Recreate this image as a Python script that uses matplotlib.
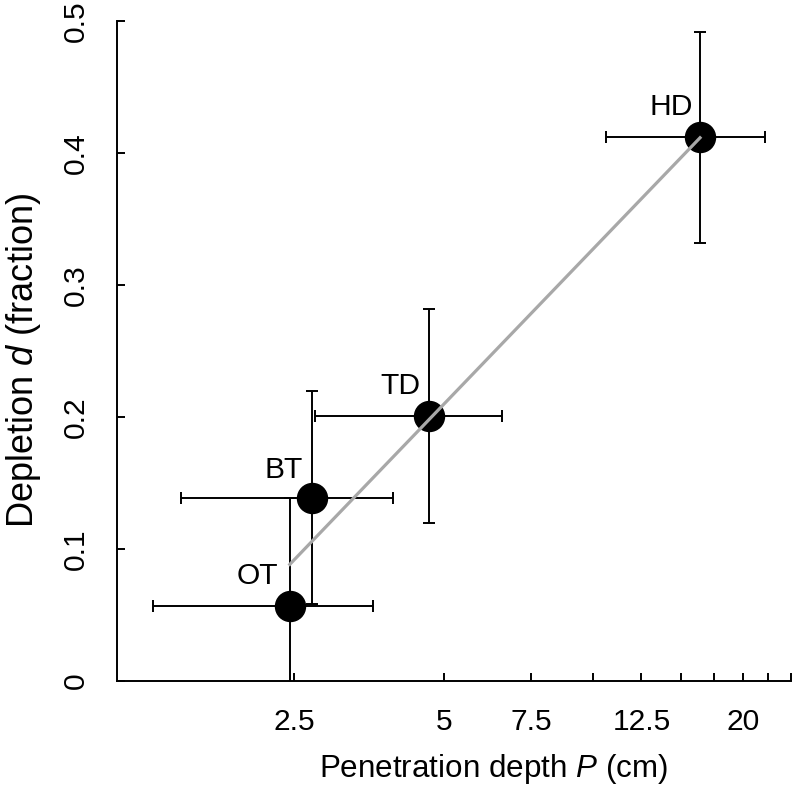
import numpy as np
import matplotlib
matplotlib.use("Agg")
import matplotlib.pyplot as plt
from matplotlib.ticker import FixedLocator, FixedFormatter, NullLocator

plt.rcParams['font.family'] = ['Liberation Sans', 'DejaVu Sans']
plt.rcParams['mathtext.fontset'] = 'custom'
plt.rcParams['mathtext.rm'] = 'Liberation Sans'
plt.rcParams['mathtext.it'] = 'Liberation Sans:italic'

# Data
sites = ["OT", "BT", "TD", "HD"]
depth_P = [2.45, 2.72, 4.66, 16.4]
depth_err = [1.15, 1.24, 1.90, 5.8]
depletion_d = [0.057, 0.139, 0.201, 0.412]
depletion_err = [0.082, 0.081, 0.081, 0.080]
fit_intercept = -0.064
fit_slope = 0.170

x_ticks = [2.5, 5, 7.5, 10, 12.5, 15, 17.5, 20, 22.5, 25]
x_ticklabels = ["2.5", "5", "7.5", "", "12.5", "", "", "20", "", ""]
y_ticks = [0, 0.1, 0.2, 0.3, 0.4, 0.5]
y_ticklabels = ["0", "0.1", "0.2", "0.3", "0.4", "0.5"]

fig = plt.figure(figsize=(7.96, 7.89), dpi=100)
ax = fig.add_axes([117/796, 1-681/789, (791-117)/796, (681-21)/789])

ax.errorbar(depth_P, depletion_d, xerr=depth_err, yerr=depletion_err,
            fmt='none', ecolor='black', elinewidth=1.4, capsize=4.5,
            capthick=1.4, zorder=2)
ax.plot(depth_P, depletion_d, 'o', color='black', markersize=21.6, zorder=3)

P = np.array(depth_P)
xs = np.linspace(P.min(), P.max(), 100)
ax.plot(xs, fit_intercept + fit_slope*np.log(xs), color='#a8a8a8', lw=2.3, zorder=4)

offsets = {"OT": (-12, 22), "BT": (-9, 20), "TD": (-8, 22), "HD": (-7, 22)}
for s, x, y in zip(sites, depth_P, depletion_d):
    ax.annotate(s, (x, y), xytext=offsets[s], textcoords='offset pixels',
                ha='right', va='baseline', fontsize=21.6, zorder=5)

ax.set_xscale('log')
ax.set_xlim(1.1, 25)
ax.set_ylim(0, 0.5)
ax.xaxis.set_major_locator(FixedLocator(x_ticks))
ax.xaxis.set_major_formatter(FixedFormatter(x_ticklabels))
ax.xaxis.set_minor_locator(NullLocator())
ax.yaxis.set_major_locator(FixedLocator(y_ticks))
ax.yaxis.set_major_formatter(FixedFormatter(y_ticklabels))

ax.tick_params(axis='both', direction='in', length=6, width=1.4,
               labelsize=21.6, pad=19.5)
for lab in ax.get_yticklabels():
    lab.set_rotation(90)
    lab.set_va('center')

for sp in ['top', 'right']:
    ax.spines[sp].set_visible(False)
for sp in ['left', 'bottom']:
    ax.spines[sp].set_linewidth(1.4)

ax.set_xlabel("Penetration depth $\\mathit{P}$ (cm)", fontsize=22.6, labelpad=10)
ax.xaxis.set_label_coords((493-117)/674, -(752-681)/660, transform=ax.transAxes)
ax.xaxis.label.set_va('top')
ax.set_ylabel("Depletion $\\mathit{d}$ (fraction)", fontsize=26, labelpad=8)
ax.yaxis.set_label_coords(-(117-4)/674, (681-360)/660, transform=ax.transAxes)
ax.yaxis.label.set_va('top')

fig.savefig("out.png", dpi=100)
